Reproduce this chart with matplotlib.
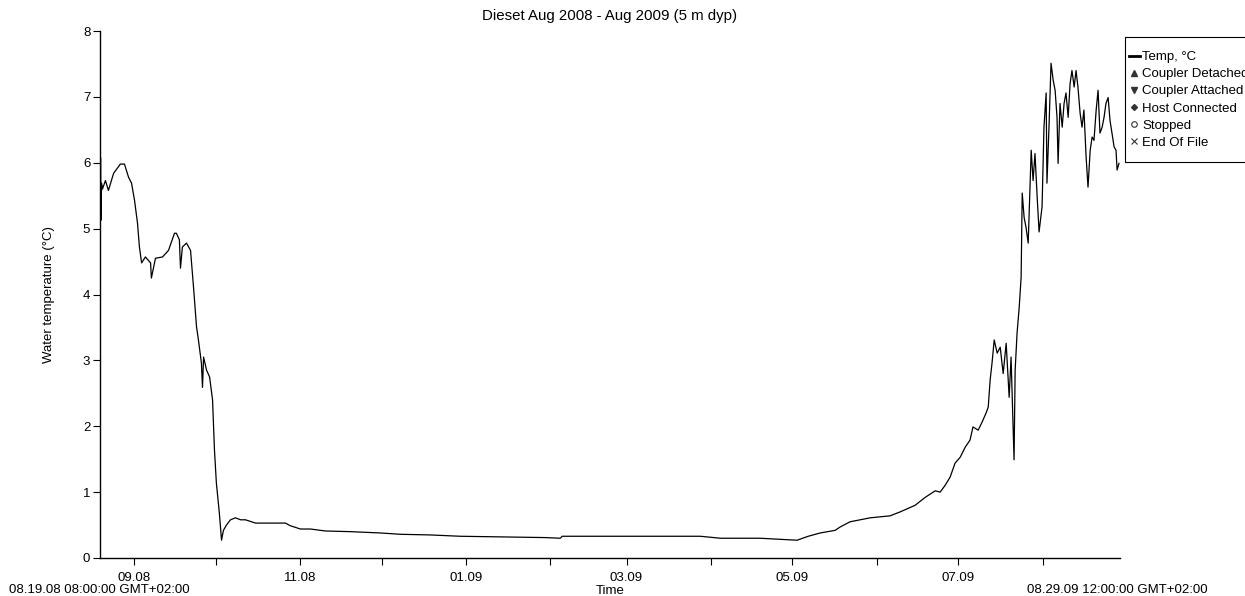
import matplotlib
matplotlib.use('Agg')
import matplotlib.pyplot as plt
import matplotlib.dates as mdates
from matplotlib.lines import Line2D
from matplotlib.patches import Rectangle
import pandas as pd

plt.rcParams['font.family'] = ['Liberation Sans', 'DejaVu Sans']

# logger start / end
START = pd.Timestamp('2008-08-19 08:00:00')
END = pd.Timestamp('2009-08-29 12:00:00')

# days since logger start
elapsed_days = [
    0.0, 0.2, 0.4, 0.55, 0.9, 2.0, 3.1, 5.0, 7.5, 9.0, 10.5, 11.6, 12.7, 13.8,
    14.5, 15.3, 16.7, 18.6, 18.9, 20.4, 23.0, 25.2, 27.4, 28.1, 29.2, 29.6,
    30.3, 31.8, 33.3, 34.4, 35.5, 36.2, 37.3, 37.7, 38.1, 39.2, 40.3, 41.4,
    42.1, 42.8, 43.9, 44.7, 45.4, 46.5, 48.0, 49.8, 51.7, 53.5, 57.2, 62.7,
    68.2, 70.0, 73.7, 77.4, 82.9, 92.1, 103.1, 110.5, 121.5, 132.5, 147.2,
    163.8, 169.3, 170.0, 184.0, 202.4, 220.8, 228.2, 242.8, 256.4, 260.5,
    264.9, 270.4, 272.2, 275.9, 283.3, 290.6, 294.3, 299.8, 303.5, 307.2,
    309.0, 310.8, 312.7, 314.5, 316.4, 318.2, 320.0, 321.1, 323.0, 324.4,
    325.9, 326.7, 327.4, 328.1, 328.9, 330.0, 331.1, 332.2, 333.3, 334.4,
    335.1, 336.2, 336.6, 337.3, 338.1, 338.8, 339.2, 339.9, 340.6, 341.4,
    342.5, 343.2, 343.9, 344.7, 345.4, 346.5, 347.2, 348.0, 348.3, 349.1,
    349.8, 350.6, 351.3, 352.0, 352.4, 353.1, 353.9, 354.6, 355.3, 356.1,
    356.8, 357.5, 358.3, 359.0, 359.7, 360.5, 361.2, 361.9, 362.7, 363.4,
    364.2, 364.9, 365.6, 366.4, 367.1, 367.8, 368.6, 369.3, 370.0, 370.8,
    371.5, 372.2, 373.0, 373.7, 374.1, 374.8,
]
temp_c = [
    5.13, 6.08, 5.13, 5.69, 5.60, 5.73, 5.58, 5.84, 5.98, 5.98, 5.78, 5.69,
    5.43, 5.08, 4.72, 4.48, 4.57, 4.48, 4.25, 4.55, 4.57, 4.67, 4.93, 4.93,
    4.83, 4.40, 4.72, 4.78, 4.67, 4.11, 3.51, 3.31, 2.96, 2.59, 3.05, 2.85,
    2.75, 2.40, 1.64, 1.14, 0.68, 0.27, 0.42, 0.50, 0.58, 0.61, 0.58, 0.58,
    0.53, 0.53, 0.53, 0.49, 0.44, 0.44, 0.41, 0.40, 0.38, 0.36, 0.35, 0.33,
    0.32, 0.31, 0.30, 0.33, 0.33, 0.33, 0.33, 0.30, 0.30, 0.27, 0.33, 0.38,
    0.42, 0.47, 0.55, 0.61, 0.64, 0.70, 0.80, 0.92, 1.02, 1.00, 1.10, 1.23,
    1.44, 1.53, 1.68, 1.79, 1.99, 1.94, 2.06, 2.20, 2.29, 2.70, 2.96, 3.31,
    3.11, 3.20, 2.80, 3.26, 2.44, 3.05, 1.49, 2.85, 3.41, 3.81, 4.26, 5.54,
    5.17, 5.02, 4.78, 6.19, 5.73, 6.14, 5.48, 4.95, 5.33, 6.54, 7.06, 5.69,
    6.60, 7.51, 7.25, 7.10, 6.69, 5.99, 6.90, 6.54, 6.90, 7.06, 6.69, 7.20,
    7.40, 7.15, 7.40, 7.15, 6.75, 6.54, 6.80, 6.09, 5.63, 6.19, 6.39, 6.34,
    6.80, 7.10, 6.45, 6.54, 6.69, 6.90, 6.99, 6.64, 6.45, 6.24, 6.19, 5.89,
    5.99,
]

legend_labels = ['Temp, °C', 'Coupler Detached', 'Coupler Attached',
                 'Host Connected', 'Stopped', 'End Of File']

times = START + pd.to_timedelta(elapsed_days, unit='D')

W, H = 1245, 596
fig = plt.figure(figsize=(W / 100, H / 100), dpi=100)
ax = fig.add_axes([100 / W, 38 / H, 1020 / W, 527 / H])

ax.plot(times, temp_c, color='black', linewidth=0.9)

ax.set_xlim(START, END)
ax.set_ylim(0, 8)
ax.set_yticks(range(0, 9))

# month ticks, every second one labelled
ax.xaxis.set_major_locator(mdates.MonthLocator(bymonth=[1, 3, 5, 7, 9, 11]))
ax.xaxis.set_major_formatter(mdates.DateFormatter('%m.%y'))
ax.xaxis.set_minor_locator(mdates.MonthLocator(bymonth=[2, 4, 6, 8, 10, 12]))

ax.spines['top'].set_visible(False)
ax.spines['right'].set_visible(False)
ax.spines['left'].set_linewidth(1)
ax.spines['bottom'].set_linewidth(1)
ax.tick_params(axis='both', which='both', direction='out', length=5, width=0.8,
               labelsize=9.5, pad=2)
ax.tick_params(axis='x', pad=5)

ax.set_ylabel('Water temperature (°C)', fontsize=9.5, labelpad=20)
ax.set_xlabel('Time', fontsize=9.5, labelpad=1)
ax.set_title('Dieset Aug 2008 - Aug 2009 (5 m dyp)', fontsize=10.8, pad=8)

fig.text(9 / W, 1 - 590 / H, '08.19.08 08:00:00 GMT+02:00', fontsize=9.5,
         ha='left', va='center')
fig.text(1208 / W, 1 - 590 / H, '08.29.09 12:00:00 GMT+02:00', fontsize=9.5,
         ha='right', va='center')

# legend frame drawn separately (reference box runs off the right edge)
fig.patches.append(Rectangle((1125 / W, 1 - 162 / H), 140 / W, 125 / H,
                             transform=fig.transFigure, facecolor='white',
                             edgecolor='black', linewidth=0.8, zorder=2))

handles = [
    Line2D([], [], color='black', linewidth=2),
    Line2D([], [], linestyle='none', marker='^', color='#333333', markersize=4),
    Line2D([], [], linestyle='none', marker='v', color='#333333', markersize=4),
    Line2D([], [], linestyle='none', marker='D', color='#333333', markersize=3),
    Line2D([], [], linestyle='none', marker='o', markerfacecolor='none',
           markeredgecolor='#333333', markersize=4, markeredgewidth=0.8),
    Line2D([], [], linestyle='none', marker='x', color='#333333', markersize=4,
           markeredgewidth=0.8),
]
leg = fig.legend(handles, legend_labels, loc='upper left',
                 bbox_to_anchor=(1129 / W, 1 - 51 / H), fontsize=9.5,
                 frameon=False, borderpad=0, handlelength=0.8,
                 handletextpad=0.2, labelspacing=0.37, borderaxespad=0)
leg.set_zorder(3)

fig.savefig('out.png', dpi=100, facecolor='white')
